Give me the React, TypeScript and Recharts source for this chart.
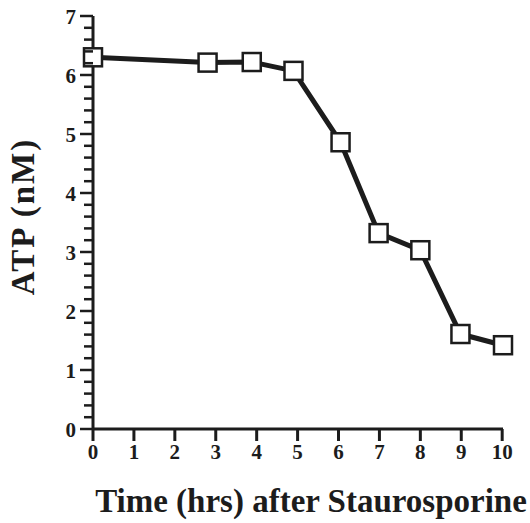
import { Label, Line, LineChart, XAxis, YAxis } from "recharts";

const hours = [0, 2.8, 3.88, 4.9, 6.05, 6.98, 8.0, 8.98, 10.02];
const atp = [6.3, 6.21, 6.22, 6.07, 4.86, 3.32, 3.03, 1.61, 1.42];

const xTicks = [0, 1, 2, 3, 4, 5, 6, 7, 8, 9, 10];
const yTicks = [
  0, 0.2, 0.4, 0.6, 0.8, 1, 1.2, 1.4, 1.6, 1.8, 2, 2.2, 2.4, 2.6, 2.8, 3, 3.2, 3.4, 3.6, 3.8, 4,
  4.2, 4.4, 4.6, 4.8, 5, 5.2, 5.4, 5.6, 5.8, 6, 6.2, 6.4, 6.6, 6.8, 7,
];

const data = hours.map((h, i) => ({ hours: h, atp: atp[i] }));

const ink = "#1c1c1c";
const serif = "'Liberation Serif', 'Times New Roman', serif";

function YTick(props: any) {
  const { x, y, payload } = props;
  const major = Math.abs(payload.value - Math.round(payload.value)) < 1e-6;
  return (
    <g>
      <line x1={x - (major ? 13 : 9)} y1={y} x2={x} y2={y} stroke={ink} strokeWidth={2.5} />
      {major && (
        <text
          x={x - 17}
          y={y}
          dy="0.36em"
          textAnchor="end"
          fontFamily={serif}
          fontWeight="bold"
          fontSize={21}
          fill={ink}
        >
          {Math.round(payload.value)}
        </text>
      )}
    </g>
  );
}

function SquareDot(props: any) {
  const { cx, cy, index } = props;
  return (
    <rect
      key={`dot-${index}`}
      x={cx - 9}
      y={cy - 9}
      width={18}
      height={18}
      fill="#fff"
      stroke={ink}
      strokeWidth={2.5}
    />
  );
}

export default function App() {
  return (
    <div style={{ position: "absolute", left: 0, top: 0, background: "#fff" }}>
      <LineChart width={530} height={523} data={data} margin={{ top: 16, right: 27, left: 0, bottom: 0 }}>
        <XAxis
          dataKey="hours"
          type="number"
          domain={[0, 10]}
          ticks={xTicks}
          interval={0}
          height={94}
          tickSize={12}
          tickMargin={3}
          axisLine={{ stroke: ink, strokeWidth: 3 }}
          tickLine={{ stroke: ink, strokeWidth: 3 }}
          tick={{ fontFamily: serif, fontWeight: "bold", fontSize: 21, fill: ink }}
        >
          <Label
            value="Time (hrs) after Staurosporine"
            position="insideBottom"
            offset={11}
            dx={13}
            style={{ fontFamily: serif, fontWeight: "bold", fontSize: 33, fill: ink }}
          />
        </XAxis>
        <YAxis
          type="number"
          domain={[0, 7]}
          ticks={yTicks}
          interval={0}
          width={93}
          tickSize={0}
          tickMargin={0}
          axisLine={{ stroke: ink, strokeWidth: 3 }}
          tickLine={false}
          tick={<YTick />}
        >
          <Label
            value="ATP (nM)"
            angle={-90}
            position="insideLeft"
            offset={22}
            dy={-6}
            style={{
              fontFamily: serif,
              fontWeight: "bold",
              fontSize: 33,
              letterSpacing: 2,
              fill: ink,
              textAnchor: "middle",
            }}
          />
        </YAxis>
        <Line
          type="linear"
          dataKey="atp"
          stroke={ink}
          strokeWidth={5}
          dot={<SquareDot />}
          activeDot={false}
          isAnimationActive={false}
        />
      </LineChart>
    </div>
  );
}
